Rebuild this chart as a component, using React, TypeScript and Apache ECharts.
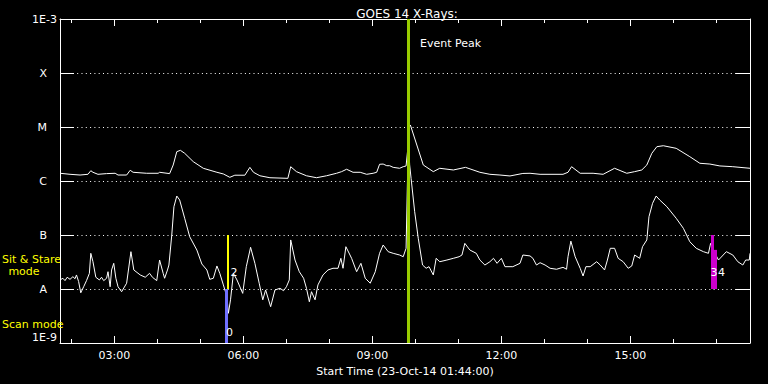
import React, { useEffect, useRef } from "react";
import * as echarts from "echarts";

// ---------- data ----------
const TITLE = "GOES 14 X-Rays:";
const X_AXIS_NAME = "Start Time (23-Oct-14 01:44:00)";
const X_START = "01:44";
const X_END = "17:47";
const MAJOR_TICKS = ["03:00", "06:00", "09:00", "12:00", "15:00"];
const MINOR_TICKS = [
  "02:00", "03:00", "04:00", "05:00", "06:00", "07:00", "08:00", "09:00",
  "10:00", "11:00", "12:00", "13:00", "14:00", "15:00", "16:00", "17:00",
];
const Y_MIN = 1e-9;
const Y_MAX = 1e-3;
// decade exponents used for the tick marks
const Y_DECADES = [-9, -8, -7, -6, -5, -4, -3];
const Y_LABELS: Record<string, string> = {
  "-3": "1E-3", "-4": "X", "-5": "M", "-6": "C", "-7": "B", "-8": "A", "-9": "1E-9",
};

// 1-8 Angstrom (long) channel
const LONG_CHANNEL: [string, number][] = [
  ["01:44", 1.39e-6], ["01:58", 1.33e-6], ["02:12", 1.29e-6], ["02:23", 1.33e-6],
  ["02:27", 1.55e-6], ["02:30", 1.45e-6], ["02:37", 1.33e-6], ["02:49", 1.37e-6],
  ["03:01", 1.39e-6], ["03:05", 1.29e-6], ["03:17", 1.29e-6], ["03:22", 1.58e-6],
  ["03:26", 1.45e-6], ["03:45", 1.39e-6], ["04:01", 1.39e-6], ["04:03", 1.45e-6],
  ["04:17", 1.37e-6], ["04:22", 1.98e-6], ["04:27", 3.49e-6], ["04:32", 3.7e-6],
  ["04:38", 3.26e-6], ["04:50", 2.28e-6], ["05:04", 1.72e-6], ["05:23", 1.45e-6],
  ["05:32", 1.35e-6], ["05:41", 1.17e-6], ["05:48", 1.28e-6], ["06:02", 1.28e-6],
  ["06:09", 1.79e-6], ["06:14", 1.45e-6], ["06:23", 1.25e-6], ["06:37", 1.15e-6],
  ["07:02", 1.12e-6], ["07:06", 1.84e-6], ["07:14", 1.49e-6], ["07:28", 1.25e-6],
  ["07:42", 1.15e-6], ["07:56", 1.25e-6], ["08:10", 1.39e-6], ["08:17", 1.49e-6],
  ["08:24", 1.65e-6], ["08:33", 1.45e-6], ["08:43", 1.45e-6], ["08:52", 1.33e-6],
  ["09:01", 1.39e-6], ["09:06", 1.45e-6], ["09:10", 2.04e-6], ["09:15", 2.06e-6],
  ["09:20", 1.92e-6], ["09:24", 1.92e-6], ["09:29", 1.79e-6], ["09:38", 1.72e-6],
  ["09:43", 1.84e-6], ["09:47", 1.9e-6], ["09:49", 3.49e-6], ["09:50", 9.46e-6],
  ["09:53", 1.09e-5], ["10:02", 4.64e-6], ["10:11", 1.98e-6], ["10:25", 1.49e-6],
  ["10:34", 1.72e-6], ["10:53", 1.6e-6], ["11:10", 1.79e-6], ["11:30", 1.45e-6],
  ["11:44", 1.33e-6], ["11:58", 1.29e-6], ["12:12", 1.24e-6], ["12:30", 1.38e-6],
  ["12:40", 1.39e-6], ["12:54", 1.33e-6], ["13:26", 1.33e-6], ["13:33", 1.45e-6],
  ["13:38", 1.84e-6], ["13:50", 1.39e-6], ["14:08", 1.39e-6], ["14:22", 1.33e-6],
  ["14:38", 1.72e-6], ["14:55", 1.39e-6], ["15:06", 1.49e-6], ["15:16", 1.6e-6],
  ["15:23", 1.98e-6], ["15:30", 3.26e-6], ["15:37", 4.32e-6], ["15:46", 4.5e-6],
  ["16:04", 4.03e-6], ["16:23", 2.82e-6], ["16:37", 2.13e-6], ["16:51", 2.06e-6],
  ["17:05", 1.9e-6], ["17:23", 1.84e-6], ["17:47", 1.72e-6],
];

// 0.5-4 Angstrom (short) channel
const SHORT_CHANNEL: [string, number][] = [
  ["01:44", 1.47e-8], ["01:48", 1.58e-8], ["01:51", 1.43e-8], ["01:54", 1.65e-8],
  ["01:58", 1.51e-8], ["02:02", 1.69e-8], ["02:05", 1.55e-8], ["02:07", 1.82e-8],
  ["02:10", 1.37e-8], ["02:13", 8.5e-9], ["02:17", 1.1e-8], ["02:21", 1.43e-8],
  ["02:25", 1.95e-8], ["02:27", 4.58e-8], ["02:30", 3.2e-8], ["02:34", 1.65e-8],
  ["02:39", 1.47e-8], ["02:42", 1.65e-8], ["02:45", 1.43e-8], ["02:49", 1.58e-8],
  ["02:51", 2.09e-8], ["02:54", 1.1e-8], ["02:56", 2.25e-8], ["02:59", 2.99e-8],
  ["03:02", 1.58e-8], ["03:05", 1.1e-8], ["03:10", 8.9e-9], ["03:17", 1.28e-8],
  ["03:23", 4.91e-8], ["03:27", 2.25e-8], ["03:36", 1.82e-8], ["03:43", 1.65e-8],
  ["03:49", 1.95e-8], ["03:53", 1.65e-8], ["03:59", 1.43e-8], ["04:03", 3.44e-8],
  ["04:08", 1.95e-8], ["04:10", 1.58e-8], ["04:14", 2.25e-8], ["04:16", 2.78e-8],
  ["04:20", 1.0e-7], ["04:23", 3.34e-7], ["04:27", 5.27e-7], ["04:31", 4.45e-7],
  ["04:38", 2.04e-7], ["04:45", 9.3e-8], ["04:55", 5.27e-8], ["05:02", 2.9e-8],
  ["05:09", 2.25e-8], ["05:13", 1.51e-8], ["05:18", 1.58e-8], ["05:23", 2.67e-8],
  ["05:27", 1.95e-8], ["05:32", 1.19e-8], ["05:37", 7.2e-9], ["05:39", 3.55e-9],
  ["05:42", 6.3e-9], ["05:46", 1.95e-8], ["05:51", 1.47e-8], ["05:59", 8.3e-9],
  ["06:04", 2.59e-8], ["06:10", 5.92e-8], ["06:16", 2.99e-8], ["06:22", 1.28e-8],
  ["06:27", 6.3e-9], ["06:31", 9.6e-9], ["06:38", 4.7e-9], ["06:44", 9.6e-9],
  ["06:51", 1.03e-8], ["06:56", 9.3e-9], ["07:00", 1.1e-8], ["07:04", 1.47e-8],
  ["07:06", 8.1e-8], ["07:12", 3.44e-8], ["07:18", 2.09e-8], ["07:24", 1.58e-8],
  ["07:28", 1.03e-8], ["07:32", 5.8e-9], ["07:35", 8.9e-9], ["07:40", 6.3e-9],
  ["07:44", 1.19e-8], ["07:51", 1.82e-8], ["07:58", 2.25e-8], ["08:05", 2.42e-8],
  ["08:12", 2.42e-8], ["08:16", 3.7e-8], ["08:19", 2.42e-8], ["08:23", 6.07e-8],
  ["08:31", 3.7e-8], ["08:38", 2.09e-8], ["08:44", 2.99e-8], ["08:50", 1.58e-8],
  ["08:57", 1.28e-8], ["09:04", 2.09e-8], ["09:10", 4.58e-8], ["09:15", 6.53e-8],
  ["09:22", 4.91e-8], ["09:29", 4.58e-8], ["09:38", 4.26e-8], ["09:43", 3.96e-8],
  ["09:47", 5.67e-8], ["09:49", 1.1e-6], ["09:50", 6.5e-6], ["09:52", 1.98e-6],
  ["09:54", 1.12e-6], ["09:59", 2.7e-7], ["10:04", 8.7e-8], ["10:10", 2.78e-8],
  ["10:15", 2.42e-8], ["10:19", 2.59e-8], ["10:25", 1.82e-8], ["10:29", 3.7e-8],
  ["10:34", 3.2e-8], ["10:44", 3.44e-8], ["10:53", 3.7e-8], ["11:01", 3.96e-8],
  ["11:05", 4.26e-8], ["11:09", 7.0e-8], ["11:16", 5.27e-8], ["11:25", 4.58e-8],
  ["11:30", 3.44e-8], ["11:37", 2.78e-8], ["11:44", 3.2e-8], ["11:49", 3.7e-8],
  ["11:54", 2.99e-8], ["12:00", 3.7e-8], ["12:05", 2.59e-8], ["12:16", 2.59e-8],
  ["12:26", 2.99e-8], ["12:30", 4.26e-8], ["12:40", 4.1e-8], ["12:44", 3.7e-8],
  ["12:49", 2.78e-8], ["12:54", 3.07e-8], ["13:01", 2.78e-8], ["13:08", 2.42e-8],
  ["13:17", 2.32e-8], ["13:26", 2.52e-8], ["13:31", 2.32e-8], ["13:33", 3.96e-8],
  ["13:37", 7.7e-8], ["13:43", 3.96e-8], ["13:50", 2.42e-8], ["13:54", 1.74e-8],
  ["13:58", 2.59e-8], ["14:04", 2.59e-8], ["14:13", 3.2e-8], ["14:18", 2.78e-8],
  ["14:24", 2.25e-8], ["14:28", 3.44e-8], ["14:32", 5.67e-8], ["14:38", 5.67e-8],
  ["14:43", 3.7e-8], ["14:50", 3.2e-8], ["14:57", 2.42e-8], ["15:02", 2.67e-8],
  ["15:06", 4.26e-8], ["15:13", 3.7e-8], ["15:17", 6.07e-8], ["15:23", 8.1e-8],
  ["15:26", 2.18e-7], ["15:31", 3.86e-7], ["15:36", 5.27e-7], ["15:41", 4.45e-7],
  ["15:51", 3.34e-7], ["16:04", 2.04e-7], ["16:14", 1.33e-7], ["16:23", 7.5e-8],
  ["16:32", 5.67e-8], ["16:42", 4.91e-8], ["16:49", 4.58e-8], ["16:52", 7.0e-8],
  ["16:57", 4.91e-8], ["17:03", 3.44e-8], ["17:14", 4.91e-8], ["17:23", 4.26e-8],
  ["17:30", 3.2e-8], ["17:37", 2.78e-8], ["17:41", 3.44e-8], ["17:46", 3.44e-8],
  ["17:47", 4.58e-8],
];

const EVENT_PEAK_TIME = "09:50:30";
const EVENT_PEAK_LABEL = "Event Peak";
// [time, top flux, bottom flux, colour, width]
const MODE_BARS: [string, number, number, string, number][] = [
  ["05:36", 1e-8, 1e-9, "#7070ff", 3],
  ["05:38", 1e-7, 1e-8, "#ffff00", 2],
  ["16:54", 1e-7, 1e-8, "#cc00cc", 3],
  ["16:58", 5.3e-8, 1e-8, "#cc00cc", 3],
];
const SIT_STARE_LABEL = ["Sit & Stare", "mode"];
const SCAN_LABEL = "Scan mode";

// ---------- helpers ----------
const toMin = (s: string) => {
  const [h, m, sec] = s.split(":").map(Number);
  return h * 60 + m + (sec || 0) / 60;
};
const fmtTime = (v: number) => {
  const h = Math.floor(v / 60);
  const m = Math.round(v - h * 60);
  return `${String(h).padStart(2, "0")}:${String(m).padStart(2, "0")}`;
};

const FONT = "DejaVu Sans";
const WHITE = "#ffffff";

export default function App() {
  const ref = useRef<HTMLDivElement>(null);

  useEffect(() => {
    document.body.style.margin = "0";
    document.body.style.background = "#000";
    if (!ref.current) return;
    const chart = echarts.init(ref.current, undefined, { renderer: "svg" });

    const major = MAJOR_TICKS.map(toMin);
    const minor = MINOR_TICKS.map(toMin);
    const xBase = {
      type: "value",
      min: toMin(X_START),
      max: toMin(X_END),
      splitLine: { show: false },
    };
    const mkLine = () => ({ show: true, onZero: false, lineStyle: { color: WHITE, width: 1 } });
    const tick = (length: number, values?: number[]) => ({
      show: true,
      inside: true,
      length,
      ...(values ? { customValues: values } : {}),
      lineStyle: { color: WHITE, width: 1 },
    });

    // linear helper axes (in decade exponents) that only draw the y tick marks
    const yTickAxis = (position: string) => ({
      type: "value",
      position,
      min: Y_DECADES[0],
      max: Y_DECADES[Y_DECADES.length - 1],
      interval: 1,
      axisLine: { show: false },
      axisTick: tick(14),
      axisLabel: { show: false },
      splitLine: { show: false },
    });

    const markData: any[] = [
      { xAxis: toMin(EVENT_PEAK_TIME), lineStyle: { color: "#99cc00", width: 3, type: "solid" } },
      ...MODE_BARS.map(([t, top, bottom, color, width]) => [
        { coord: [toMin(t), top], lineStyle: { color, width, type: "solid" } },
        { coord: [toMin(t), bottom] },
      ]),
    ];

    const txt = (text: string, x: number, y: number, fill: string, align: string, size = 11) => ({
      type: "text",
      x,
      y,
      z: 100,
      style: { text, fill, font: `${size}px "${FONT}"`, align, verticalAlign: "middle" },
    });

    const option: any = {
      animation: false,
      backgroundColor: "#000000",
      title: {
        text: TITLE,
        left: 402,
        top: 3,
        textAlign: "center",
        textStyle: { color: WHITE, fontSize: 12, fontWeight: "normal", fontFamily: FONT },
      },
      grid: { left: 60, right: 18, top: 19, bottom: 41, containLabel: false },
      xAxis: [
        {
          ...xBase,
          position: "bottom",
          axisLine: mkLine(),
          axisTick: tick(7, major),
          axisLabel: { show: true, customValues: major, formatter: fmtTime, color: WHITE, fontFamily: FONT, fontSize: 11, margin: 7 },
          name: X_AXIS_NAME,
          nameLocation: "middle",
          nameGap: 21,
          nameTextStyle: { color: WHITE, fontFamily: FONT, fontSize: 11 },
        },
        { ...xBase, position: "bottom", axisLine: { show: false }, axisTick: tick(4, minor), axisLabel: { show: false } },
        { ...xBase, position: "top", axisLine: mkLine(), axisTick: tick(7, major), axisLabel: { show: false } },
        { ...xBase, position: "top", axisLine: { show: false }, axisTick: tick(4, minor), axisLabel: { show: false } },
      ],
      yAxis: [
        {
          type: "log",
          logBase: 10,
          min: Y_MIN,
          max: Y_MAX,
          splitNumber: 6,
          position: "left",
          axisLine: mkLine(),
          axisTick: { show: false },
          splitLine: { show: true, lineStyle: { color: WHITE, width: 1, type: [1, 3.3] } },
          axisLabel: {
            show: true,
            color: WHITE,
            fontFamily: FONT,
            fontSize: 11,
            margin: 3,
            verticalAlignMinLabel: "bottom",
            verticalAlignMaxLabel: "top",
            formatter: (v: number) => {
              const k = String(Math.round(Math.log10(v)));
              const s = Y_LABELS[k] ?? "";
              return s.length === 1 ? `{c|${s}}` : s;
            },
            rich: { c: { color: WHITE, fontFamily: FONT, fontSize: 11, padding: [0, 10, 0, 0] } },
          },
        },
        {
          type: "log",
          logBase: 10,
          min: Y_MIN,
          max: Y_MAX,
          splitNumber: 6,
          position: "right",
          axisLine: mkLine(),
          axisTick: { show: false },
          splitLine: { show: false },
          axisLabel: { show: false },
        },
        yTickAxis("left"),
        yTickAxis("right"),
      ],
      series: [
        {
          name: "long",
          type: "line",
          xAxisIndex: 0,
          yAxisIndex: 0,
          data: LONG_CHANNEL.map(([t, v]) => [toMin(t), v]),
          showSymbol: false,
          symbol: "none",
          lineStyle: { color: WHITE, width: 1 },
          silent: true,
          markLine: { silent: true, symbol: ["none", "none"], label: { show: false }, animation: false, data: markData },
        },
        {
          name: "short",
          type: "line",
          xAxisIndex: 0,
          yAxisIndex: 0,
          data: SHORT_CHANNEL.map(([t, v]) => [toMin(t), v]),
          showSymbol: false,
          symbol: "none",
          lineStyle: { color: WHITE, width: 1 },
          silent: true,
        },
      ],
      graphic: [
        txt(EVENT_PEAK_LABEL, 420, 43, WHITE, "left"),
        txt(SIT_STARE_LABEL[0], 2, 259, "#ffff00", "left"),
        txt(SIT_STARE_LABEL[1], 24, 271, "#ffff00", "center"),
        txt(SCAN_LABEL, 2, 324, "#ffff00", "left"),
        txt("2", 234, 272, WHITE, "center"),
        txt("0", 229.5, 332.5, WHITE, "center"),
        txt("3", 714, 272, WHITE, "center"),
        txt("4", 721.5, 272, WHITE, "center"),
      ],
    };

    chart.setOption(option);
    return () => chart.dispose();
  }, []);

  return <div ref={ref} style={{ position: "fixed", left: 0, top: 0, width: 768, height: 384, background: "#000" }} />;
}
